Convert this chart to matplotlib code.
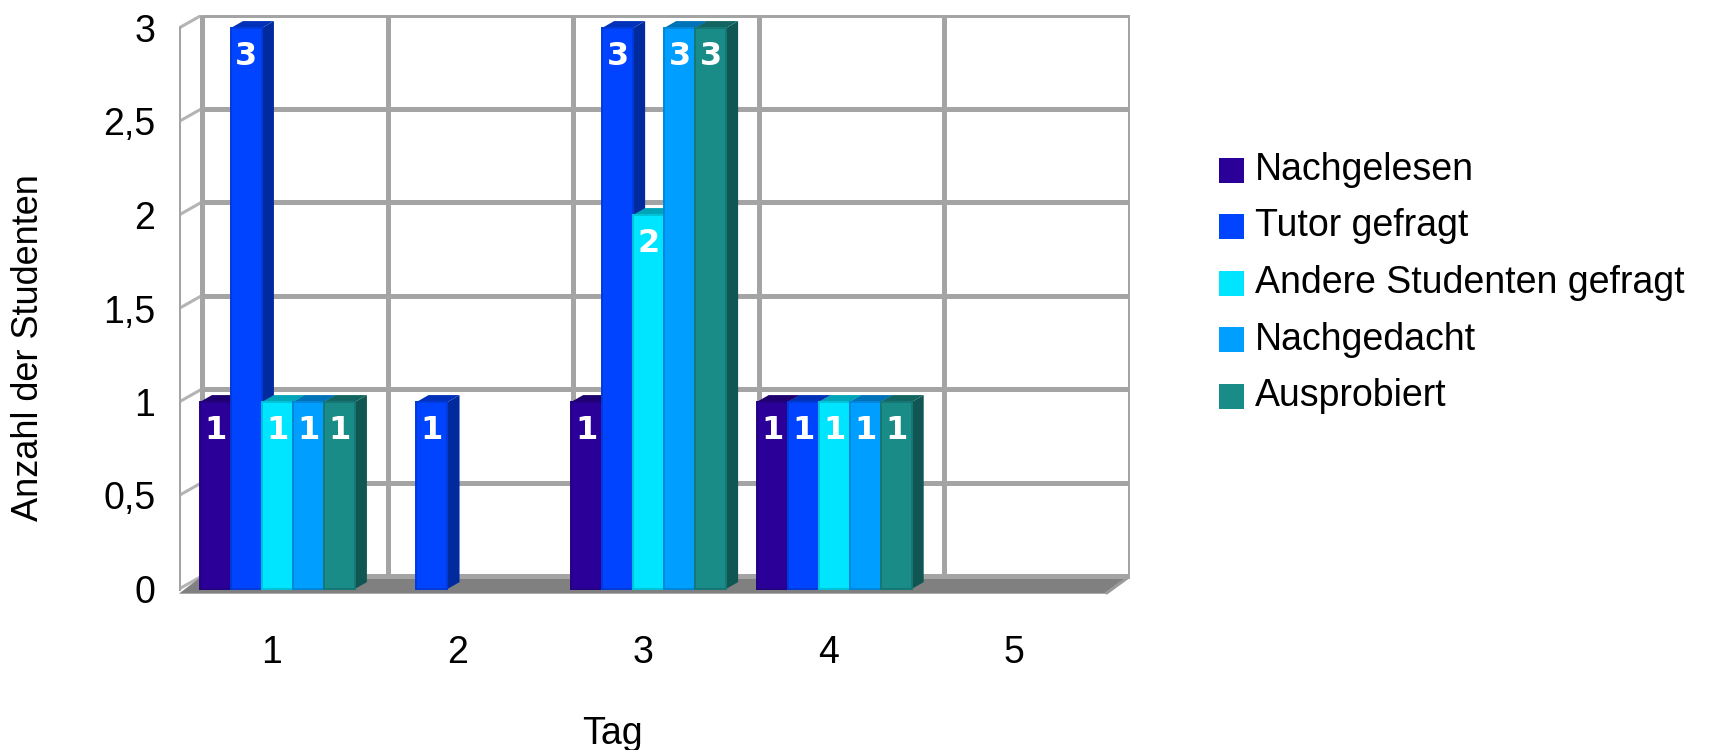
import numpy as np
import matplotlib.pyplot as plt
from matplotlib.patches import Polygon, Rectangle
from matplotlib.colors import to_rgb

# Umfrage: wie haben die Studenten ihre Probleme geloest, pro Tag
tage = ['1', '2', '3', '4', '5']
reihen = ['Nachgelesen', 'Tutor gefragt', 'Andere Studenten gefragt',
          'Nachgedacht', 'Ausprobiert']
nachgelesen = [1, 0, 1, 1, 0]
tutor = [3, 1, 3, 1, 0]
andere = [1, 0, 2, 1, 0]
nachgedacht = [1, 0, 3, 1, 0]
ausprobiert = [1, 0, 3, 1, 0]
farben = ['#2a0099', '#0044ff', '#00e5ff', '#009eff', '#1a8c88']
yticks = [0, 0.5, 1, 1.5, 2, 2.5, 3]

werte = [nachgelesen, tutor, andere, nachgedacht, ausprobiert]

# pseudo-3D: depth of the walls and of a single bar (data units)
DX, DY = 0.124, 0.0695
BDX, BDY = 0.065, 0.037
BW = 0.167
GRP_OFF = 0.03
YMIN = -0.04
YMAX = 3

GRID = '#a4a4a4'
FONT = 'Liberation Sans'


def shade(c, f):
    r, g, b = to_rgb(c)
    return (r * f, g * f, b * f)


fig = plt.figure(figsize=(17.1, 7.5), dpi=100)
W, H = 1710, 750
unit_y = 187.0
ax = fig.add_axes([179 / W, (H - 589 - (-YMIN) * unit_y) / H,
                   (1130 - 179) / W, (YMAX + DY - YMIN) * unit_y / H])
ax.set_xlim(0.5, 5.5 + DX)
ax.set_ylim(YMIN, YMAX + DY)
for s in ax.spines.values():
    s.set_visible(False)

x = np.arange(1, len(tage) + 1)
x0, x1 = 0.5, len(tage) + 0.5

# floor
ax.add_patch(Polygon([(x0, -0.025), (x1, -0.025), (x1 + DX, DY), (x0 + DX, DY)],
                     closed=True, fc='#808080', ec='none', zorder=1))

# back wall grid
for v in yticks:
    ax.plot([x0 + DX, x1 + DX], [v + DY, v + DY], color=GRID, lw=3.6,
            zorder=1.5 if v == 0 else 0.5, solid_capstyle='butt')
    # left side wall
    ax.plot([x0, x0 + DX], [v, v + DY], color='#b4b4b4', lw=2.2, zorder=0.5)
for k in range(len(tage) + 1):
    ax.plot([k + 0.5 + DX] * 2, [DY, YMAX + DY], color=GRID, lw=3.6, zorder=0.5,
            solid_capstyle='butt')
ax.plot([x0, x0], [0, YMAX], color=GRID, lw=2.2, zorder=0.5)
ax.plot([x1, x1 + DX], [-0.02, DY], color='#9a9a9a', lw=2.2, zorder=1.2)

# bars: side and top faces first, then the front face of the next bar covers them
for j, (vals, col) in enumerate(zip(werte, farben)):
    left = x - len(reihen) * BW / 2 + GRP_OFF + j * BW
    vals = np.array(vals, dtype=float)
    zb = 2 + 3 * j
    for xl, v in zip(left, vals):
        if v <= 0:
            continue
        xr = xl + BW
        ax.add_patch(Polygon([(xr, 0), (xr + BDX, BDY), (xr + BDX, v + BDY), (xr, v)],
                             closed=True, fc=shade(col, 0.62), ec='none', zorder=zb))
        ax.add_patch(Polygon([(xl, v), (xr, v), (xr + BDX, v + BDY), (xl + BDX, v + BDY)],
                             closed=True, fc=shade(col, 0.72), ec='none', zorder=zb + 0.5))
    mask = vals > 0
    bars = ax.bar(left[mask], vals[mask], width=BW, align='edge', color=col,
                  edgecolor=shade(col, 0.85), linewidth=1.4, zorder=zb + 1)
    for b, v in zip(bars, vals[mask]):
        ax.text(b.get_x() + BW / 2, v - 0.155, f'{v:g}', ha='center', va='center',
                color='white', fontsize=23, fontweight='bold', family='DejaVu Sans',
                zorder=40)

ax.set_yticks(yticks)
ax.set_yticklabels([f'{v:g}'.replace('.', ',') for v in yticks],
                   fontsize=27, family=FONT)
ax.set_xticks(x)
ax.set_xticklabels(tage, fontsize=27, family=FONT)
ax.tick_params(axis='y', length=0, pad=17)
ax.tick_params(axis='x', length=0, pad=28)

fig.text(29 / W, 1 - 348 / H, 'Anzahl der Studenten', rotation=90, ha='center',
         va='center', fontsize=26, family=FONT)
fig.text(612 / W, 1 - 744 / H, 'Tag', ha='center', va='baseline', fontsize=27,
         family=FONT)

# legend
for i, (name, col) in enumerate(zip(reihen, farben)):
    yc = 170 + i * 56.5
    fig.add_artist(Rectangle((1219 / W, 1 - (yc + 12.5) / H), 25 / W, 25 / H,
                             transform=fig.transFigure, fc=col, ec='none'))
    fig.text(1255 / W, 1 - yc / H, name, ha='left', va='center', fontsize=27,
             family=FONT)

fig.savefig('out.png', dpi=100)
